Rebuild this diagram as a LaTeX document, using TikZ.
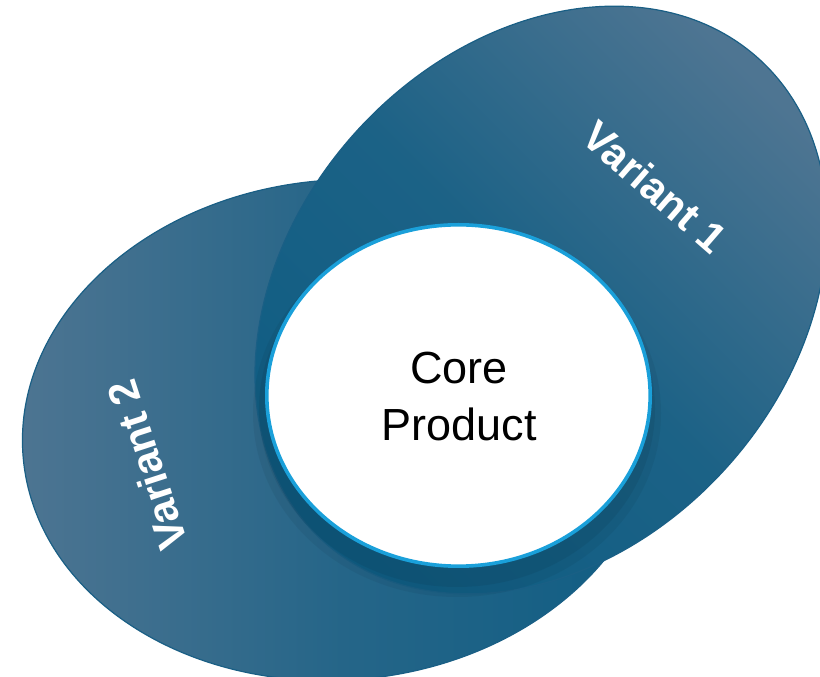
\documentclass[tikz,border=0pt]{standalone}
\usepackage{fontspec}
\setmainfont{Liberation Sans}
\begin{document}
\begin{tikzpicture}[x=1pt,y=1pt]
\definecolor{vlight}{HTML}{4E7592}
\definecolor{vdark}{HTML}{0F5D83}
\definecolor{vline}{HTML}{1A5F85}
\definecolor{ringblue}{HTML}{1AA0DA}
\tikzset{
  petal/.style={draw=vline, line width=1.2},
  varlabel/.style={text=white, font=\bfseries\fontsize{42}{46}\selectfont, inner sep=0},
  corelabel/.style={text=black, align=center, font=\fontsize{45}{57}\selectfont, inner sep=0}
}
\useasboundingbox (0,0) rectangle (820,677);
% Variant 2 ellipse
\shade[petal, rotate around={5:(340,247)}, left color=vlight, right color=vdark, middle color=vlight!35!vdark]
  (340,247) ellipse [x radius=318, y radius=250];
% Variant 1 ellipse
\shade[petal, rotate around={48:(541,377)}, bottom color=vdark, top color=vlight, middle color=vdark!80!vlight, shading angle=-45]
  (541,377) ellipse [x radius=325, y radius=250];
% shadow of core
\fill[black, opacity=0.05] (457,264) ellipse [x radius=204, y radius=184];
\fill[black, opacity=0.06] (457,268) ellipse [x radius=198, y radius=178];
% core circle
\filldraw[fill=white, draw=ringblue, line width=3.6] (458.5,281.5) ellipse [x radius=191.7, y radius=170.7];
\node[corelabel] (core) at (459,280) {Core\\Product};
\node[varlabel, rotate=-41] (v1) at (655,490) {Variant 1};
\node[varlabel, rotate=108] (v2) at (147,212) {Variant 2};
\end{tikzpicture}
\end{document}
